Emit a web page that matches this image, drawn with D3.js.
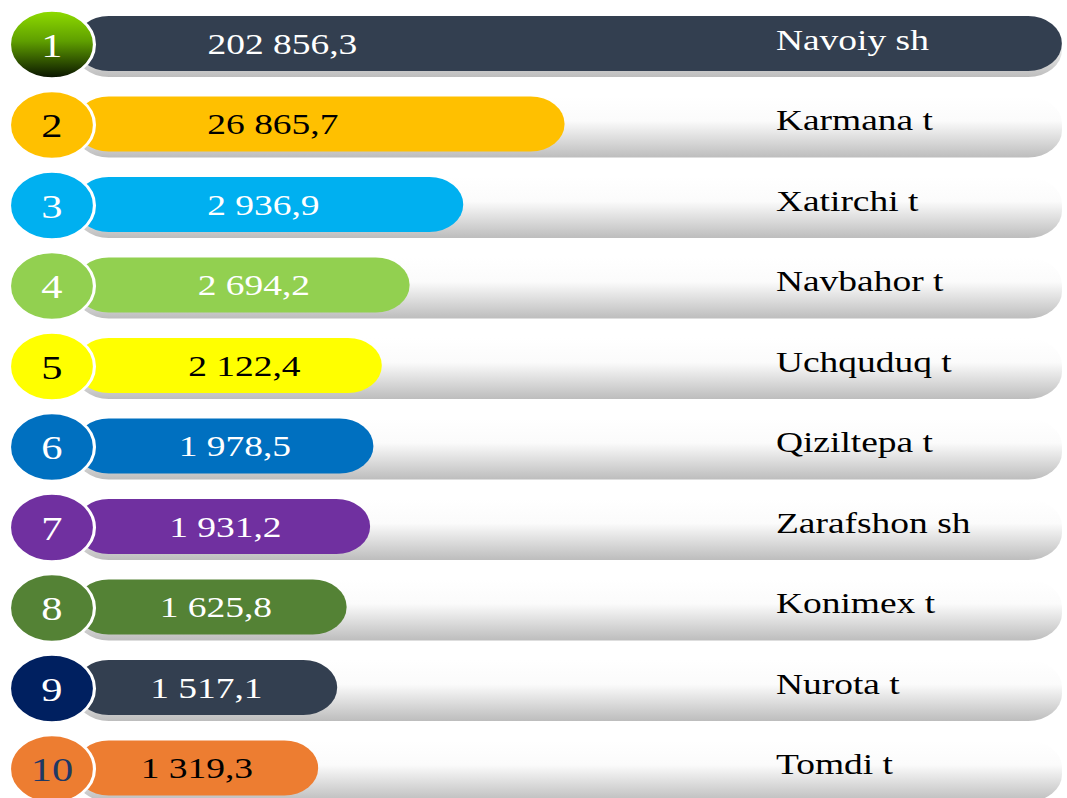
<!DOCTYPE html>
<html>
<head>
<meta charset="utf-8">
<script src="https://cdn.jsdelivr.net/npm/d3@7"></script>
<style>
  html, body { margin: 0; padding: 0; background: #fff; overflow: hidden; }
  svg { display: block; }
</style>
</head>
<body>
<div id="chart"></div>
<script>
// data
const ranks = [1, 2, 3, 4, 5, 6, 7, 8, 9, 10]
const districts = ['Navoiy sh', 'Karmana t', 'Xatirchi t', 'Navbahor t', 'Uchquduq t',
  'Qiziltepa t', 'Zarafshon sh', 'Konimex t', 'Nurota t', 'Tomdi t']
const values = [202856.3, 26865.7, 2936.9, 2694.2, 2122.4, 1978.5, 1931.2, 1625.8, 1517.1, 1319.3]
const barColors = ['#333f50', '#ffc000', '#00b0f0', '#92d050', '#ffff00',
  '#0070c0', '#7030a0', '#548235', '#333f50', '#ed7d31']
const circleColors = ['url(#greenBall)', '#ffc000', '#00b0f0', '#92d050', '#ffff00',
  '#0070c0', '#7030a0', '#548235', '#002060', '#ed7d31']
const numColors = ['#fff', '#000', '#fff', '#fff', '#000', '#fff', '#fff', '#fff', '#fff', '#1f3864']
const valueColors = ['#fff', '#000', '#fff', '#fff', '#000', '#fff', '#fff', '#fff', '#fff', '#000']
const labelColors = ['#fff', '#000', '#000', '#000', '#000', '#000', '#000', '#000', '#000', '#000']

// the picture is drawn on a narrower canvas and stretched sideways, like the original slide
const W = 1067, H = 798
const innerW = 854
const x0 = 60, trackEnd = 850, cx = 41.6, rad = 34
const font = '"Liberation Serif", "Times New Roman", serif'

const fmt = (v) => {
  const [a, b] = v.toFixed(1).split('.')
  return a.replace(/\B(?=(\d{3})+(?!\d))/g, ' ') + ',' + b
}

const svg = d3.select('#chart').append('svg')
  .attr('width', W).attr('height', H)
  .attr('viewBox', `0 0 ${innerW} ${H}`)
  .attr('preserveAspectRatio', 'none')

const defs = svg.append('defs')
const tg = defs.append('linearGradient').attr('id', 'track')
  .attr('x1', 0).attr('y1', 0).attr('x2', 0).attr('y2', 1)
tg.append('stop').attr('offset', '0%').attr('stop-color', '#ffffff')
tg.append('stop').attr('offset', '40%').attr('stop-color', '#fbfbfb')
tg.append('stop').attr('offset', '100%').attr('stop-color', '#bdbdbd')

const gb = defs.append('linearGradient').attr('id', 'greenBall')
  .attr('x1', 0).attr('y1', 0).attr('x2', 0).attr('y2', 1)
gb.append('stop').attr('offset', '0%').attr('stop-color', '#8fdc00')
gb.append('stop').attr('offset', '45%').attr('stop-color', '#5f9f00')
gb.append('stop').attr('offset', '100%').attr('stop-color', '#081200')

const y = d3.scaleBand().domain(ranks).range([16, 795.5]).paddingInner(0.3168)
const bh = y.bandwidth()

// piecewise log scale: value -> right end of the bar
const x = d3.scaleLog()
  .domain([1300, 2000, 2700, 2950, 27000, 203000])
  .range([253, 300, 328, 373, 452, trackEnd])

const rows = ranks.map((r, i) => ({ rank: r, name: districts[i], value: values[i], i }))

const row = svg.selectAll('g.row').data(rows).join('g').attr('class', 'row')

row.append('rect')
  .attr('x', x0).attr('y', (d) => y(d.rank))
  .attr('width', trackEnd - x0).attr('height', bh + 6)
  .attr('rx', 27).attr('ry', 27)
  .attr('fill', 'url(#track)')

row.append('rect')
  .attr('x', x0).attr('y', (d) => y(d.rank))
  .attr('width', (d) => x(d.value) - x0).attr('height', bh)
  .attr('rx', 27).attr('ry', 27)
  .attr('fill', (d) => barColors[d.i])

row.append('circle')
  .attr('cx', cx).attr('cy', (d) => y(d.rank) + bh / 2 + 1)
  .attr('r', rad)
  .attr('fill', (d) => circleColors[d.i])
  .attr('stroke', '#fff').attr('stroke-width', 2.5)

row.append('text')
  .attr('x', cx).attr('y', (d) => y(d.rank) + bh / 2 + 2)
  .attr('text-anchor', 'middle').attr('dominant-baseline', 'central')
  .attr('font-family', font).attr('font-size', 34)
  .attr('fill', (d) => numColors[d.i])
  .text((d) => d.rank)

row.append('text')
  .attr('x', (d) => 226 - 7.6 * d.i)
  .attr('y', (d) => y(d.rank) + bh / 2)
  .attr('text-anchor', 'middle').attr('dominant-baseline', 'central')
  .attr('font-family', font).attr('font-size', 30)
  .attr('fill', (d) => valueColors[d.i])
  .text((d) => fmt(d.value))

row.append('text')
  .attr('x', 621)
  .attr('y', (d) => y(d.rank) + bh / 2 - 4)
  .attr('dominant-baseline', 'central')
  .attr('font-family', font).attr('font-size', 30)
  .attr('fill', (d) => labelColors[d.i])
  .text((d) => d.name)
</script>
</body>
</html>
